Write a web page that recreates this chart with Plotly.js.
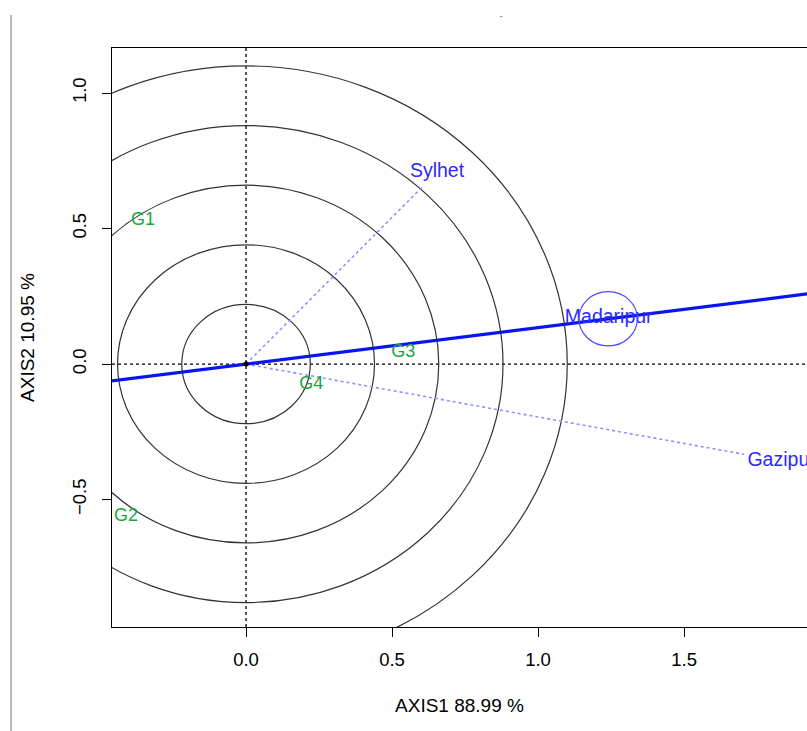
<!DOCTYPE html>
<html>
<head>
<meta charset="utf-8">
<script src="https://cdn.plot.ly/plotly-3.0.1.min.js"></script>
<style>html,body{margin:0;padding:0;background:#fff;}</style>
</head>
<body>
<div id="chart" style="width:807px;height:731px;"></div>
<script>
// ---- data ----
var genotypes = ['G1', 'G2', 'G3', 'G4'];
var genoX = [-0.353, -0.411, 0.538, 0.223];
var genoY = [0.531, -0.561, 0.044, -0.077];

var environments = ['Sylhet', 'Madaripur', 'Gazipur'];
var envX = [0.654, 1.242, 1.834];
var envY = [0.708, 0.170, -0.358];

var ringRadii = [0.22, 0.44, 0.66, 0.88, 1.10];
var aecX = 1.24, aecY = 0.167;   // average-environment point (small circle centre)
var aecRadius = 0.1;

var xTicks = [0, 0.5, 1, 1.5];
var xTickText = ['0.0', '0.5', '1.0', '1.5'];
var yTicks = [-0.5, 0, 0.5, 1];
var yTickText = ['\u22120.5', '0.0', '0.5', '1.0'];

// ---- traces ----
var traces = [];
var font = 'Liberation Sans, Arial, sans-serif';

// environment vectors (dotted)
for (var i = 0; i < environments.length; i++) {
  if (environments[i] === 'Madaripur') continue;
  traces.push({
    x: [0, envX[i] * 0.93], y: [0, envY[i] * 0.93],
    mode: 'lines', type: 'scatter', hoverinfo: 'skip', showlegend: false,
    line: {color: '#9090ff', width: 1.6, dash: 'dot'}
  });
}

// average environment axis line
traces.push({
  x: [-2 * aecX, 2 * aecX], y: [-2 * aecY, 2 * aecY],
  mode: 'lines', type: 'scatter', hoverinfo: 'skip', showlegend: false,
  line: {color: '#0a14f0', width: 3.2}
});

// origin
traces.push({
  x: [0], y: [0], mode: 'markers', type: 'scatter', showlegend: false,
  marker: {color: '#000', size: 5}
});

// genotype labels
traces.push({
  x: genoX, y: genoY, text: genotypes, mode: 'text', type: 'scatter', showlegend: false,
  textposition: 'middle center', cliponaxis: false,
  textfont: {family: font, size: 18, color: '#1aa63c'}
});

// environment labels
traces.push({
  x: envX, y: envY, text: environments, mode: 'text', type: 'scatter', showlegend: false,
  textposition: 'middle center', cliponaxis: true,
  textfont: {family: font, size: 19.5, color: '#2b2bff'}
});

// ---- shapes ----
var shapes = [];
ringRadii.forEach(function (r) {
  shapes.push({type: 'circle', xref: 'x', yref: 'y', x0: -r, x1: r, y0: -r, y1: r,
    line: {color: '#333', width: 1.2}, layer: 'below'});
});
shapes.push({type: 'circle', xref: 'x', yref: 'y',
  x0: aecX - aecRadius, x1: aecX + aecRadius, y0: aecY - aecRadius, y1: aecY + aecRadius,
  line: {color: '#4b4bff', width: 1.2}});
// dotted reference lines through origin
shapes.push({type: 'line', xref: 'x', yref: 'paper', x0: 0, x1: 0, y0: 0, y1: 1,
  line: {color: '#000', width: 1.3, dash: 'dot'}, layer: 'below'});
shapes.push({type: 'line', xref: 'paper', yref: 'y', x0: 0, x1: 1, y0: 0, y1: 0,
  line: {color: '#000', width: 1.3, dash: 'dot'}, layer: 'below'});
// grey page rule at left
shapes.push({type: 'line', xref: 'paper', yref: 'paper', x0: -0.1453, x1: -0.1453, y0: 1.057, y1: -0.18,
  line: {color: '#b8b8b8', width: 2}});

var layout = {
  width: 807, height: 731,
  margin: {l: 112, r: 0, t: 48, b: 104},
  paper_bgcolor: '#fff', plot_bgcolor: '#fff',
  font: {family: font, size: 19, color: '#000'},
  title: {text: '-', font: {family: font, size: 8, color: '#222'}, x: 0.621, xanchor: 'center', y: 0.979, yanchor: 'middle'},
  xaxis: {
    range: [-0.459, 1.921], tickvals: xTicks, ticktext: xTickText,
    ticks: 'outside', ticklen: 9, tickcolor: '#000', tickwidth: 1, ticklabelstandoff: 6,
    showgrid: false, zeroline: false, showline: true, linecolor: '#000', linewidth: 1.3, mirror: true,
    tickfont: {family: font, size: 18.5, color: '#000'},
    title: {text: 'AXIS1 88.99 %', standoff: 30, font: {family: font, size: 19, color: '#000'}},
    fixedrange: true
  },
  yaxis: {
    range: [-0.970, 1.166], tickvals: yTicks, ticktext: yTickText, tickangle: -90,
    ticks: 'outside', ticklen: 9, tickcolor: '#000', tickwidth: 1, ticklabelstandoff: 8,
    showgrid: false, zeroline: false, showline: true, linecolor: '#000', linewidth: 1.3, mirror: false,
    tickfont: {family: font, size: 18.5, color: '#000'},
    title: {text: 'AXIS2 10.95 %', standoff: 29, font: {family: font, size: 19, color: '#000'}},
    fixedrange: true
  },
  shapes: shapes,
  showlegend: false
};

Plotly.newPlot('chart', traces, layout, {displayModeBar: false, staticPlot: true});
</script>
</body>
</html>
